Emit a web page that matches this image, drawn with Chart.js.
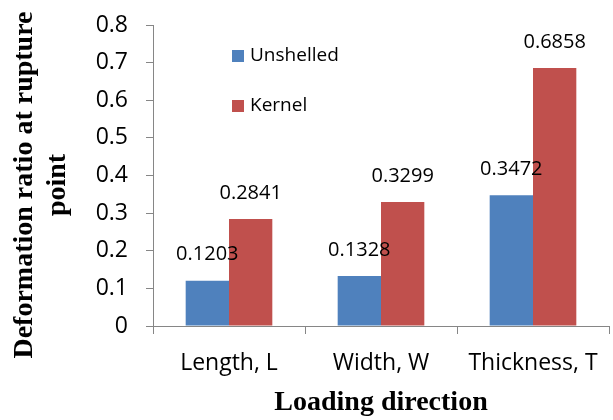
<!DOCTYPE html>
<html>
<head>
<meta charset="utf-8">
<script src="https://cdn.jsdelivr.net/npm/chart.js@4.4.1/dist/chart.umd.min.js"></script>
<style>
  html, body { margin: 0; padding: 0; background: #fff; }
  #wrap { width: 613px; height: 420px; }
</style>
</head>
<body>
<div id="wrap"><canvas id="canvChart"></canvas></div>
<script>
var categories = ['Length, L', 'Width, W', 'Thickness, T'];
var unshelled = [0.1203, 0.1328, 0.3472];
var kernel = [0.2841, 0.3299, 0.6858];
var seriesNames = ['Unshelled', 'Kernel'];
var yTicks = [0, 0.1, 0.2, 0.3, 0.4, 0.5, 0.6, 0.7, 0.8];
var yTitle = ['Deformation ratio at rupture', 'point'];

var colors = ['#4F81BD', '#C0504D'];
var axisColor = '#868686';
var labelFont = '"Open Sans", "Liberation Sans", sans-serif';
var titleFont = '"Liberation Serif", "Times New Roman", serif';

// values above each bar
var valueLabels = {
    id: 'valueLabels',
    afterDatasetsDraw: function (chart) {
        var ctx = chart.ctx;
        ctx.save();
        ctx.font = '20px ' + labelFont;
        ctx.fillStyle = '#000';
        ctx.textAlign = 'center';
        ctx.textBaseline = 'middle';
        chart.data.datasets.forEach(function (ds, i) {
            chart.getDatasetMeta(i).data.forEach(function (bar, j) {
                ctx.fillText(ds.data[j].toFixed(4), bar.x, bar.y - 26);
            });
        });
        ctx.restore();
    }
};

// legend inside the plot, stacked
var insideLegend = {
    id: 'insideLegend',
    afterDraw: function (chart) {
        var ctx = chart.ctx;
        ctx.save();
        ctx.font = '19px ' + labelFont;
        ctx.textBaseline = 'middle';
        chart.data.datasets.forEach(function (ds, i) {
            var y = 56 + i * 50;
            ctx.fillStyle = ds.backgroundColor;
            ctx.fillRect(232, y - 6, 12, 12);
            ctx.fillStyle = '#000';
            ctx.fillText(ds.label, 250, y);
        });
        ctx.restore();
    }
};

// y title, two lines, centred a bit lower than the plot area
var yAxisTitle = {
    id: 'yAxisTitle',
    afterDraw: function (chart) {
        var ctx = chart.ctx;
        ctx.save();
        ctx.font = 'bold 28px ' + titleFont;
        ctx.fillStyle = '#000';
        ctx.textAlign = 'center';
        ctx.textBaseline = 'middle';
        ctx.translate(25, 185);
        ctx.rotate(-Math.PI / 2);
        yTitle.forEach(function (line, i) {
            ctx.fillText(line, 0, i * 33);
        });
        ctx.restore();
    }
};

var ctxMix = document.getElementById('canvChart').getContext('2d');

new Chart(ctxMix, {
    type: 'bar',
    data: {
        labels: categories,
        datasets: [
            { label: seriesNames[0], data: unshelled, backgroundColor: colors[0] },
            { label: seriesNames[1], data: kernel, backgroundColor: colors[1] }
        ]
    },
    options: {
        responsive: true,
        maintainAspectRatio: false,
        animation: false,
        devicePixelRatio: 1,
        layout: { padding: { top: 25, right: 4, left: 0, bottom: 0 } },
        datasets: {
            bar: { categoryPercentage: 0.57, barPercentage: 1.0 }
        },
        plugins: {
            legend: { display: false },
            tooltip: { enabled: false }
        },
        scales: {
            x: {
                afterFit: function (axis) {
                    axis.height = 94;
                    axis.paddingLeft = 0;
                    axis.paddingRight = 0;
                },
                grid: {
                    offset: true,
                    drawOnChartArea: false,
                    drawTicks: true,
                    tickLength: 8,
                    color: axisColor
                },
                border: { color: axisColor, width: 1 },
                ticks: {
                    color: '#000',
                    font: { family: labelFont, size: 23 },
                    padding: 16,
                    maxRotation: 0
                },
                title: {
                    display: true,
                    text: 'Loading direction',
                    color: '#000',
                    font: { family: titleFont, size: 28, weight: 'bold', lineHeight: 1.2 },
                    padding: { top: 0, bottom: 0 }
                }
            },
            y: {
                min: 0,
                max: 0.8,
                afterFit: function (axis) {
                    axis.width = 153;
                    axis.paddingTop = 0;
                    axis.paddingBottom = 0;
                },
                afterBuildTicks: function (axis) {
                    axis.ticks = yTicks.map(function (v) { return { value: v }; });
                },
                grid: {
                    drawOnChartArea: false,
                    drawTicks: true,
                    tickLength: 7,
                    color: axisColor
                },
                border: { color: axisColor, width: 1 },
                ticks: {
                    color: '#000',
                    font: { family: labelFont, size: 23 },
                    padding: 18,
                    callback: function (v) { return String(Math.round(v * 10) / 10); }
                },
                title: { display: false }
            }
        }
    },
    plugins: [valueLabels, insideLegend, yAxisTitle]
});
</script>
</body>
</html>
